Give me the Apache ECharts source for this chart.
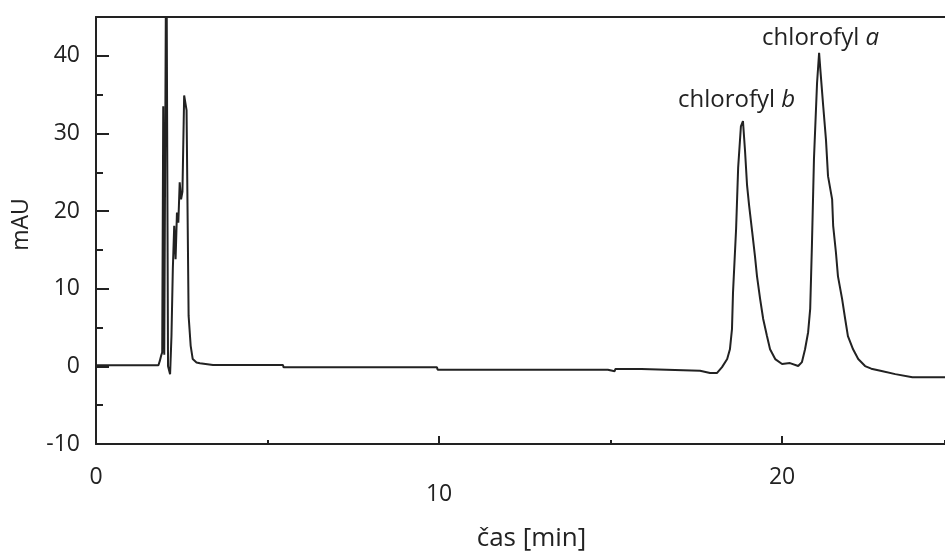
<!DOCTYPE html>
<html>
<head>
<meta charset="utf-8">
<script src="https://cdn.jsdelivr.net/npm/echarts@6/dist/echarts.min.js"></script>
<style>
html,body{margin:0;padding:0;background:#fff;}
#chart{width:945px;height:554px;}
</style>
</head>
<body>
<div id="chart"></div>
<script>
// time [min]
var times = [0, 1.82, 1.86, 1.90, 1.93, 1.96, 1.99, 2.05, 2.10, 2.16, 2.20, 2.24, 2.28, 2.32, 2.36, 2.40, 2.44, 2.48, 2.52, 2.57, 2.64, 2.70, 2.76, 2.82, 2.93, 3.03, 3.41, 5.45, 5.47, 9.94, 9.96, 14.92, 14.94, 15.12, 15.14, 15.90, 15.92, 17.61, 17.90, 18.10, 18.25, 18.40, 18.48, 18.54, 18.57, 18.66, 18.72, 18.80, 18.86, 18.92, 18.98, 19.04, 19.13, 19.21, 19.27, 19.36, 19.45, 19.56, 19.65, 19.80, 20.00, 20.23, 20.47, 20.58, 20.67, 20.76, 20.82, 20.87, 20.93, 21.02, 21.08, 21.12, 21.20, 21.28, 21.34, 21.46, 21.49, 21.57, 21.63, 21.75, 21.84, 21.92, 22.07, 22.22, 22.42, 22.60, 22.90, 23.30, 23.80, 24.75];
// signal [mAU]
var signal = [0.15, 0.15, 0.7, 1.4, 1.8, 33.5, 1.5, 60, 0, -1.0, 3.9, 12.6, 18.1, 13.8, 19.8, 18.5, 23.7, 21.5, 22.5, 34.9, 33, 6.5, 2.65, 0.94, 0.5, 0.39, 0.17, 0.17, -0.13, -0.13, -0.44, -0.44, -0.64, -0.64, -0.35, -0.35, -0.6, -0.57, -0.86, -0.86, -0.1, 0.94, 2.2, 4.8, 9.5, 17.7, 25.6, 30.9, 31.6, 27.8, 23.3, 20.7, 17.3, 14.2, 11.6, 8.7, 6.1, 3.9, 2.2, 0.94, 0.3, 0.42, 0.04, 0.55, 2.2, 4.4, 7.4, 15.5, 26.7, 36.5, 40.4, 38, 33.5, 29.2, 24.5, 21.5, 18.1, 14.7, 11.6, 8.7, 6.1, 3.9, 2.2, 0.94, 0.04, -0.3, -0.6, -1.0, -1.4, -1.4];
var xTickLabels = [0, 10, 20];
var yTickLabels = [-10, 0, 10, 20, 30, 40];
var xName = 'čas [min]';
var yName = 'mAU';
var peakLabels = [
  {name: 'chlorofyl ', it: 'b'},
  {name: 'chlorofyl ', it: 'a'}
];

var FONT = '"Open Sans", "Noto Sans", sans-serif';
var TXT = '#222';
var LINE = '#222';
var data = times.map(function (t, i) { return [t, signal[i]]; });

var chart = echarts.init(document.getElementById('chart'), null, {renderer: 'canvas'});
var xMin = 0, xMax = 24.75, yMin = -10, yMax = 45;

chart.setOption({
  animation: false,
  backgroundColor: '#fff',
  grid: {left: 96, right: 0, top: 17, bottom: 110, containLabel: false, outerBoundsMode: 'none'},
  xAxis: [
    {
      type: 'value', min: xMin, max: xMax, interval: 10, position: 'bottom',
      axisLine: {show: true, onZero: false, lineStyle: {color: LINE, width: 2}},
      axisTick: {show: true, inside: true, length: 8, lineStyle: {color: LINE, width: 2}},
      splitLine: {show: false},
      axisLabel: {
        show: true, margin: 22, showMaxLabel: false,
        fontFamily: FONT, fontSize: 23, color: TXT,
        formatter: function (v) {
          if (xTickLabels.indexOf(v) < 0) return '';
          return v === 10 ? '{lo|' + v + '}' : '{n|' + v + '}';
        },
        rich: {
          n: {fontFamily: FONT, fontSize: 23, color: TXT},
          lo: {fontFamily: FONT, fontSize: 23, color: TXT, padding: [17, 0, 0, 0]}
        }
      },
      name: xName, nameLocation: 'middle', nameGap: 82,
      nameTextStyle: {fontFamily: FONT, fontSize: 26, color: TXT, padding: [0, 0, 0, 22]}
    },
    {
      type: 'value', min: xMin, max: xMax, interval: 5, position: 'bottom',
      axisLine: {show: false, onZero: false},
      axisTick: {show: true, inside: true, length: 4, lineStyle: {color: LINE, width: 2}},
      axisLabel: {show: false}, splitLine: {show: false}
    },
    {
      type: 'value', min: xMin, max: xMax, position: 'top',
      axisLine: {show: true, onZero: false, lineStyle: {color: LINE, width: 2}},
      axisTick: {show: false}, axisLabel: {show: false}, splitLine: {show: false}
    }
  ],
  yAxis: [
    {
      type: 'value', min: yMin, max: yMax, interval: 10, position: 'left',
      axisLine: {show: true, onZero: false, lineStyle: {color: LINE, width: 2}},
      axisTick: {show: true, inside: true, length: 13, lineStyle: {color: LINE, width: 2}},
      splitLine: {show: false},
      axisLabel: {
        show: true, margin: 16, showMaxLabel: false,
        fontFamily: FONT, fontSize: 23, color: TXT,
        formatter: function (v) { return yTickLabels.indexOf(v) < 0 ? '' : String(v); }
      },
      name: yName, nameLocation: 'middle', nameGap: 63, nameRotate: 90,
      nameTextStyle: {fontFamily: FONT, fontSize: 23, color: TXT, padding: [0, 0, 0, 12]}
    },
    {
      type: 'value', min: yMin, max: yMax, interval: 5, position: 'left',
      axisLine: {show: false, onZero: false},
      axisTick: {show: true, inside: true, length: 7, lineStyle: {color: LINE, width: 2}},
      axisLabel: {show: false}, splitLine: {show: false}
    }
  ],
  series: [{
    type: 'line', xAxisIndex: 0, yAxisIndex: 0,
    data: data, showSymbol: false, symbol: 'none', clip: true,
    lineStyle: {color: LINE, width: 2}
  }]
});

// peak annotations, positioned from data coordinates of the peaks
function addLabels() {
  var pb = chart.convertToPixel({xAxisIndex: 0, yAxisIndex: 0}, [18.86, 31.6]);
  var pa = chart.convertToPixel({xAxisIndex: 0, yAxisIndex: 0}, [21.08, 40.4]);
  function lab(p, dx, dy, item) {
    return {
      type: 'text', x: p[0] + dx, y: p[1] + dy,
      style: {
        text: '{n|' + item.name + '}{i|' + item.it + '}',
        verticalAlign: 'middle', align: 'left',
        rich: {
          n: {fontFamily: FONT, fontSize: 24, fill: TXT},
          i: {fontFamily: FONT, fontSize: 24, fontStyle: 'italic', fill: TXT}
        }
      }
    };
  }
  chart.setOption({
    graphic: [lab(pb, -65, -21, peakLabels[0]), lab(pa, -57, -15, peakLabels[1])]
  });
}
addLabels();
</script>
</body>
</html>
